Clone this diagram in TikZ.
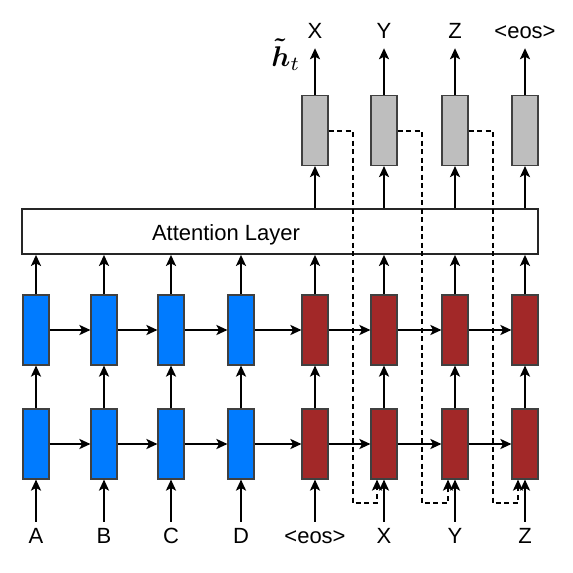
\documentclass[tikz,border=0pt]{standalone}
\usepackage{amsmath, amssymb}
\usepackage{fontspec}
\setmainfont{Liberation Sans}
\usepackage{tikz}
\usetikzlibrary{arrows.meta,calc}

\definecolor{encblue}{RGB}{0,123,255}
\definecolor{decred}{RGB}{162,40,40}
\definecolor{outgrey}{RGB}{190,190,190}

\begin{document}
\begin{tikzpicture}[x=1pt, y=-1pt,
    cell/.style={draw=black!75, line width=1.1pt, minimum width=26pt, minimum height=70pt, inner sep=0pt},
    arr/.style={-{Stealth[length=11pt,width=10pt,inset=2.5pt]}, line width=2pt},
    feed/.style={arr, dash pattern=on 5pt off 3.5pt},
    lbl/.style={font=\fontsize{22}{26}\selectfont, anchor=base, text height=16pt, text depth=5pt, inner xsep=0pt, inner ysep=5pt}]
    \useasboundingbox (0,0) rectangle (573,573);

    % Attention layer
    \node[draw=black!85, line width=1.8pt, minimum width=516pt, minimum height=45pt, inner sep=0pt] (att) at (280,231.5) {};
    \node[lbl] (attlbl) at (226,240) {Attention Layer};

    % Encoder (blue) and decoder (red), two stacked layers
    \foreach \x/\c/\w [count=\i] in {36/encblue/A, 104/encblue/B, 171/encblue/C, 241/encblue/D,
            315/decred/\textless{}eos\textgreater, 384/decred/X, 455/decred/Y, 525/decred/Z} {
        \node[cell, fill=\c] (b\i) at (\x,444) {};
        \node[cell, fill=\c] (t\i) at (\x,330) {};
        \node[lbl] (in\i) at (\x,543) {\w};
        \draw[arr] (in\i) -- (b\i);
        \draw[arr] (b\i) -- (t\i);
        \draw[arr] (t\i.north) -- (t\i.north |- att.south);
    }
    \foreach \i in {1,...,7} {
        \pgfmathtruncatemacro{\j}{\i+1}
        \draw[arr] (b\i) -- (b\j);
        \draw[arr] (t\i) -- (t\j);
    }

    % Output layer
    \foreach \x/\w [count=\i from 5] in {315/X, 384/Y, 455/Z, 525/\textless{}eos\textgreater} {
        \node[cell, fill=outgrey] (g\i) at (\x,130.5) {};
        \node[lbl] (out\i) at (\x,38) {\w};
        \draw[arr] (att.north -| g\i) -- (g\i);
        \draw[arr] (g\i) -- (out\i);
    }
    \node[anchor=base, inner sep=0pt, scale=2.85] (ht) at (286,66) {$\boldsymbol{\tilde{h}}_t$};

    % Feeding outputs back as next inputs
    \foreach \i in {5,6,7} {
        \pgfmathtruncatemacro{\j}{\i+1}
        \coordinate (k\i) at ($(g\i.east)+(24,0)$);
        \coordinate (k\i) at (k\i |- 0,503);
        \draw[feed] (g\i.east) -| (k\i) -| ([xshift=-7pt]b\j.south);
    }
\end{tikzpicture}
\end{document}
